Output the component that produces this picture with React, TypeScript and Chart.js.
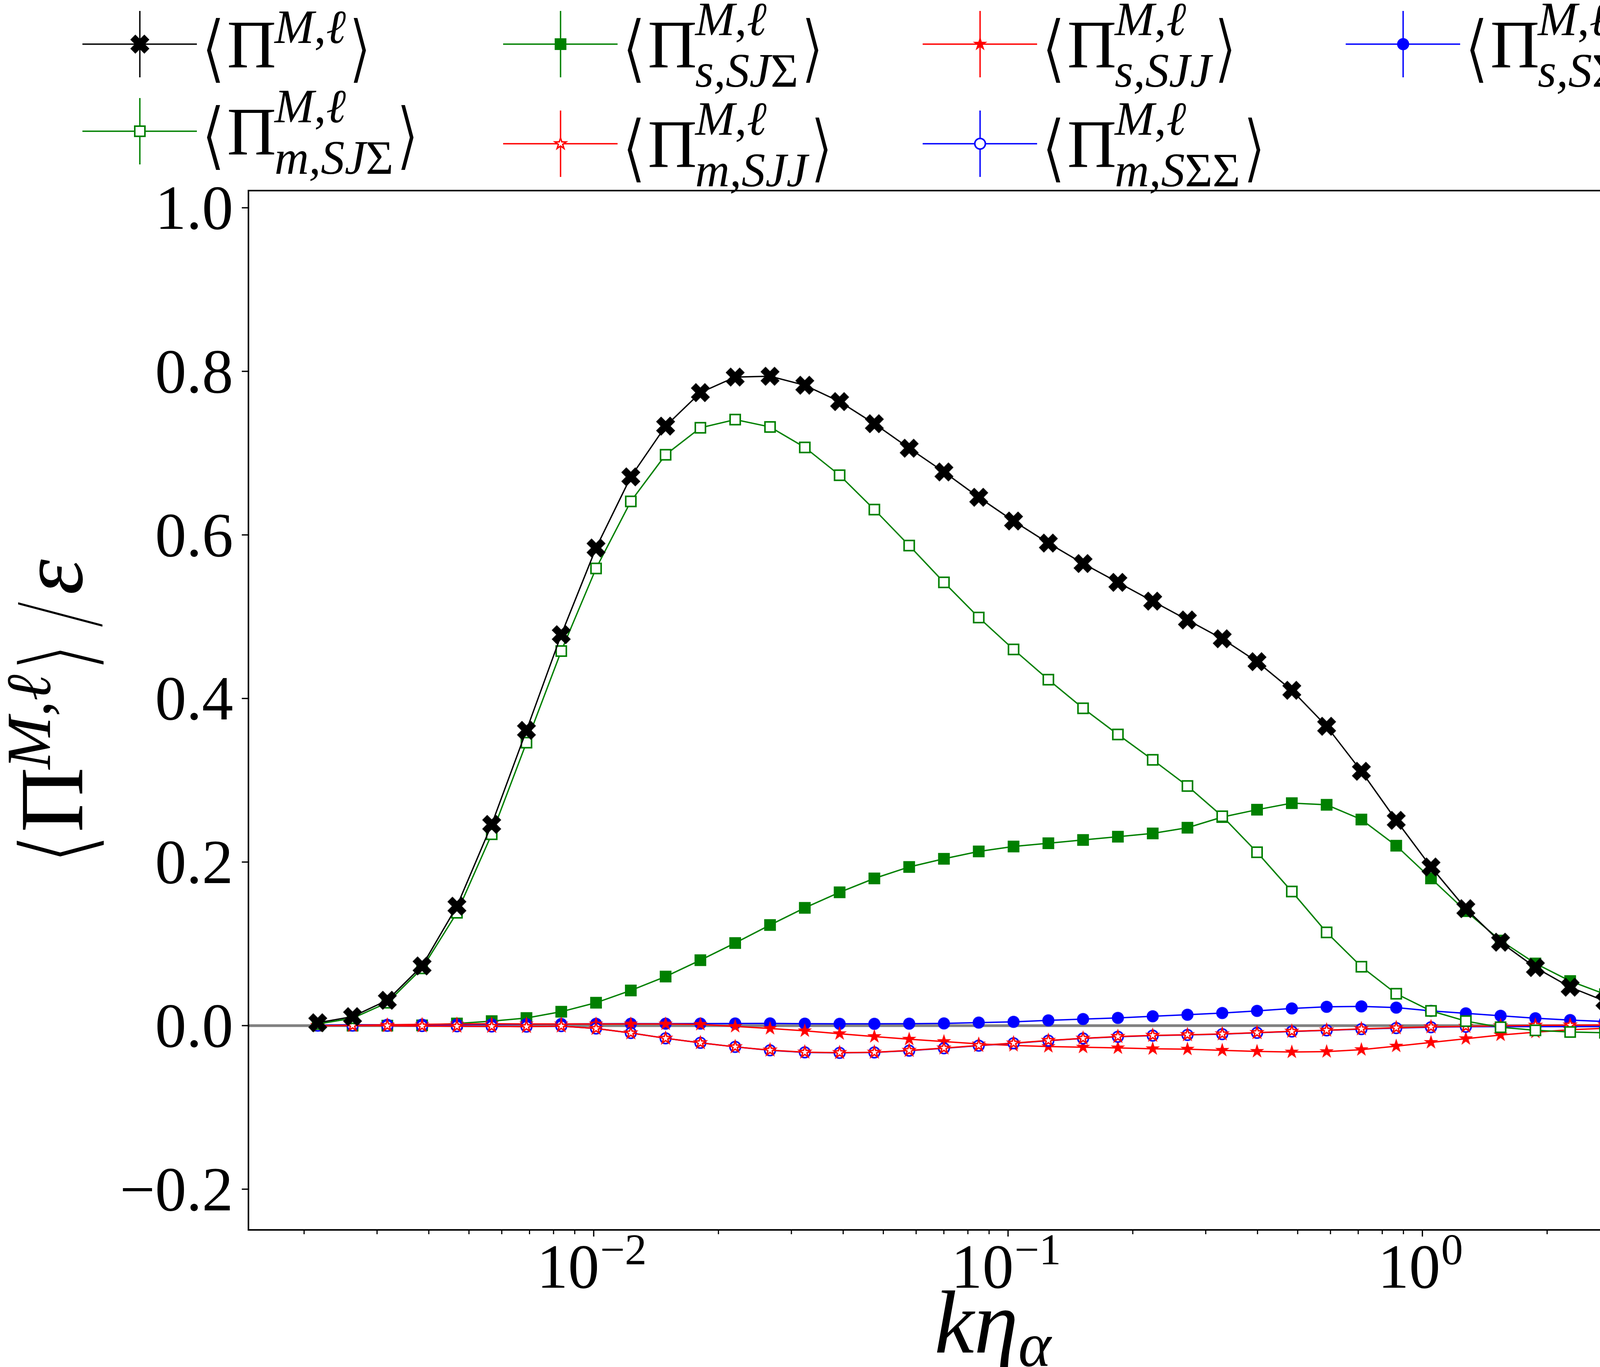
import { useEffect, useRef } from 'react';
import { Chart, registerables } from 'chart.js';

Chart.register(...registerables);

// k*eta_alpha of each sample
const kEta = [
  0.002158, 0.002618, 0.003176, 0.003853, 0.004676, 0.005673, 0.006882, 0.00835, 0.01013, 0.01229,
  0.01491, 0.01809, 0.02195, 0.02664, 0.03232, 0.03922, 0.04757, 0.05772, 0.07003, 0.08496,
  0.1031, 0.1251, 0.1517, 0.1841, 0.2234, 0.271, 0.3288, 0.3989, 0.484, 0.5873,
  0.7125, 0.8646, 1.049, 1.273, 1.544, 1.874, 2.273, 2.758, 3.346, 4.06,
];

const piTotal = [
  0.0035, 0.011, 0.031, 0.073, 0.146, 0.246, 0.361, 0.478, 0.584, 0.671,
  0.733, 0.774, 0.793, 0.794, 0.783, 0.763, 0.736, 0.706, 0.677, 0.646,
  0.617, 0.59, 0.565, 0.542, 0.519, 0.496, 0.473, 0.445, 0.41, 0.366,
  0.311, 0.251, 0.194, 0.143, 0.102, 0.071, 0.047, 0.03, 0.0175, 0.0095,
];
const piMSJSigma = [
  0.002, 0.009, 0.028, 0.07, 0.138, 0.234, 0.346, 0.458, 0.559, 0.641,
  0.698, 0.731, 0.741, 0.732, 0.707, 0.673, 0.631, 0.587, 0.542, 0.499,
  0.46, 0.423, 0.388, 0.356, 0.325, 0.293, 0.256, 0.212, 0.164, 0.114,
  0.072, 0.039, 0.018, 0.0055, -0.002, -0.0058, -0.0078, -0.0088, -0.0094, -0.0099,
];
const piSSJSigma = [
  0, 0, 0, 0.0003, 0.0026, 0.0055, 0.0093, 0.017, 0.028, 0.043,
  0.06, 0.08, 0.101, 0.123, 0.144, 0.163, 0.18, 0.194, 0.204, 0.213,
  0.219, 0.223, 0.227, 0.231, 0.235, 0.242, 0.255, 0.264, 0.272, 0.27,
  0.252, 0.22, 0.18, 0.14, 0.104, 0.076, 0.0545, 0.0385, 0.027, 0.0195,
];
const piSSJJ = [
  0, 0.0005, 0.001, 0.0015, 0.002, 0.0022, 0.002, 0.002, 0.002, 0.002,
  0.002, 0.0015, -0.001, -0.0035, -0.0064, -0.0099, -0.0134, -0.0166, -0.0195, -0.0224,
  -0.0243, -0.0256, -0.0264, -0.0272, -0.0283, -0.0288, -0.0302, -0.0315, -0.0323, -0.0318,
  -0.0294, -0.0251, -0.0206, -0.016, -0.0115, -0.008, -0.005, -0.0032, -0.002, -0.001,
];
const piMSJJ = [
  0, 0, -0.0002, -0.0005, -0.0008, -0.001, -0.0012, -0.0006, -0.0035, -0.009,
  -0.0155, -0.021, -0.026, -0.03, -0.0325, -0.0331, -0.0326, -0.0304, -0.0275, -0.0243,
  -0.0214, -0.0182, -0.0155, -0.0134, -0.012, -0.0112, -0.0102, -0.0086, -0.007, -0.0056,
  -0.004, -0.0027, -0.0016, -0.001, -0.0003, 0.0003, 0.0006, 0.0008, 0.001, 0.001,
];
const piSSigmaSigma = [
  0.0005, 0.001, 0.001, 0.0012, 0.0013, 0.0015, 0.0018, 0.002, 0.0022, 0.0023,
  0.0024, 0.0025, 0.0026, 0.0027, 0.0024, 0.0022, 0.0022, 0.0024, 0.0027, 0.0037,
  0.0046, 0.0064, 0.008, 0.0094, 0.0114, 0.0133, 0.0154, 0.018, 0.021, 0.023,
  0.0235, 0.022, 0.018, 0.015, 0.012, 0.009, 0.0068, 0.005, 0.0035, 0.002,
];
const piMSigmaSigma = [
  0, 0, -0.0002, -0.0005, -0.0008, -0.001, -0.0012, -0.0006, -0.0035, -0.009,
  -0.0155, -0.021, -0.026, -0.0302, -0.0327, -0.0333, -0.0328, -0.0306, -0.0277, -0.0245,
  -0.0216, -0.0184, -0.0157, -0.0136, -0.0122, -0.0114, -0.0104, -0.0088, -0.0072, -0.0058,
  -0.0043, -0.003, -0.002, -0.0014, -0.0012, -0.0012, -0.0012, -0.0012, -0.0012, -0.001,
];

const yTicks = [-0.2, 0, 0.2, 0.4, 0.6, 0.8, 1.0];
const yTickLabels = ['\u22120.2', '0.0', '0.2', '0.4', '0.6', '0.8', '1.0'];
const xMajorTicks = [0.01, 0.1, 1];
const xMajorExponents = ['\u22122', '\u22121', '0'];
const xMinorTicks = [
  0.002, 0.003, 0.004, 0.005, 0.006, 0.007, 0.008, 0.009,
  0.02, 0.03, 0.04, 0.05, 0.06, 0.07, 0.08, 0.09,
  0.2, 0.3, 0.4, 0.5, 0.6, 0.7, 0.8, 0.9,
  2, 3, 4, 5,
];

const SERIF = '"Liberation Serif", "DejaVu Serif", serif';
const font = (size: number, italic = false) => `${italic ? 'italic ' : ''}${size}px ${SERIF}`;
const DELIM_FONT = '200px "DejaVu Sans", "Noto Sans CJK JP", sans-serif';

type Piece = [string, boolean?];
const SUP: Piece[] = [['M', true], [','], ['\u2113', true]];

function runPieces(ctx: CanvasRenderingContext2D, pieces: Piece[], x: number, y: number, size: number) {
  for (const [t, it] of pieces) {
    ctx.font = font(size, !!it);
    ctx.fillText(t, x, y);
    x += ctx.measureText(t).width;
  }
  return x;
}

function piecesWidth(ctx: CanvasRenderingContext2D, pieces: Piece[], size: number) {
  let w = 0;
  for (const [t, it] of pieces) {
    ctx.font = font(size, !!it);
    w += ctx.measureText(t).width;
  }
  return w;
}

// stretch a glyph so its ink fills the box (big delimiters); `thin` shaves the stroke
function stretchGlyph(
  ctx: CanvasRenderingContext2D, ch: string, l: number, t: number, r: number, b: number, thin = 0,
) {
  ctx.save();
  ctx.font = DELIM_FONT;
  ctx.textAlign = 'left';
  ctx.textBaseline = 'alphabetic';
  const m = ctx.measureText(ch);
  const gw = m.actualBoundingBoxLeft + m.actualBoundingBoxRight;
  const gh = m.actualBoundingBoxAscent + m.actualBoundingBoxDescent;
  const sx = (r - l) / gw;
  const sy = (b - t) / gh;
  ctx.translate(l, t);
  ctx.scale(sx, sy);
  ctx.fillText(ch, m.actualBoundingBoxLeft, m.actualBoundingBoxAscent);
  if (thin > 0) {
    ctx.strokeStyle = '#fff';
    ctx.lineJoin = 'round';
    ctx.lineWidth = (2 * thin) / sx;
    ctx.strokeText(ch, m.actualBoundingBoxLeft, m.actualBoundingBoxAscent);
  }
  ctx.restore();
}

// <Pi^{M,l}_{sub}> with its baseline at B
function drawMathLabel(ctx: CanvasRenderingContext2D, x: number, B: number, F: number, sub: Piece[] | null) {
  const f = F * 0.7;
  const top = B - 0.74 * F;
  const bot = B + 0.245 * F;
  stretchGlyph(ctx, '\u27E8', x - 2, top, x + 0.218 * F, bot, 2);
  let cx = x + 0.3 * F;
  ctx.font = font(F);
  ctx.fillText('\u03A0', cx, B);
  cx += ctx.measureText('\u03A0').width - 0.023 * F;
  let end = runPieces(ctx, SUP, cx, B - (sub ? 0.47 : 0.356) * F, f);
  if (sub) end = Math.max(end, runPieces(ctx, sub, cx, B + 0.287 * F, f));
  const cl = end + 0.1 * F;
  stretchGlyph(ctx, '\u27E9', cl, top, cl + 0.2 * F + 2, bot, 2);
}

function makeMarker(kind: string, color: string): HTMLCanvasElement {
  const c = document.createElement('canvas');
  c.width = 64;
  c.height = 64;
  const g = c.getContext('2d')!;
  g.translate(32, 32);
  g.strokeStyle = color;
  g.fillStyle = color;
  const star = (R: number) => {
    g.beginPath();
    for (let i = 0; i < 10; i++) {
      const r = i % 2 === 0 ? R : R * 0.382;
      const a = -Math.PI / 2 + (i * Math.PI) / 5;
      if (i === 0) g.moveTo(r * Math.cos(a), r * Math.sin(a));
      else g.lineTo(r * Math.cos(a), r * Math.sin(a));
    }
    g.closePath();
  };
  if (kind === 'X') {
    const v = [
      [0.25, 0], [0.5, 0.25], [0.25, 0.5], [0, 0.25], [-0.25, 0.5], [-0.5, 0.25],
      [-0.25, 0], [-0.5, -0.25], [-0.25, -0.5], [0, -0.25], [0.25, -0.5], [0.5, -0.25],
    ];
    g.beginPath();
    v.forEach(([px, py], i) => (i === 0 ? g.moveTo(px * 46, py * 46) : g.lineTo(px * 46, py * 46)));
    g.closePath();
    g.fill();
    g.lineWidth = 2;
    g.stroke();
  } else if (kind === 'square') {
    g.fillRect(-15, -15, 30, 30);
  } else if (kind === 'squareOpen') {
    g.fillStyle = '#fff';
    g.fillRect(-13, -13, 26, 26);
    g.lineWidth = 4;
    g.strokeRect(-13, -13, 26, 26);
  } else if (kind === 'circle') {
    g.beginPath();
    g.arc(0, 0, 15.5, 0, Math.PI * 2);
    g.fill();
  } else if (kind === 'circleOpen') {
    g.beginPath();
    g.arc(0, 0, 13.5, 0, Math.PI * 2);
    g.fillStyle = '#fff';
    g.fill();
    g.lineWidth = 4;
    g.stroke();
  } else if (kind === 'star') {
    star(17);
    g.fill();
    g.lineWidth = 1.5;
    g.stroke();
  } else if (kind === 'starOpen') {
    star(15);
    g.fillStyle = '#fff';
    g.fill();
    g.lineWidth = 3.5;
    g.stroke();
  }
  return c;
}

export default function App() {
  const canvasRef = useRef<HTMLCanvasElement>(null);

  useEffect(() => {
    const canvas = canvasRef.current;
    if (!canvas) return;

    // listed top-most first: Chart.js paints dataset 0 last
    const series = [
      { key: 'total', values: piTotal, color: '#000000', marker: 'X' },
      { key: 'mSJSigma', values: piMSJSigma, color: '#008000', marker: 'squareOpen' },
      { key: 'mSJJ', values: piMSJJ, color: '#ff0000', marker: 'starOpen' },
      { key: 'mSigmaSigma', values: piMSigmaSigma, color: '#0000ff', marker: 'circleOpen' },
      { key: 'sSJJ', values: piSSJJ, color: '#ff0000', marker: 'star' },
      { key: 'sSigmaSigma', values: piSSigmaSigma, color: '#0000ff', marker: 'circle' },
      { key: 'sSJSigma', values: piSSJSigma, color: '#008000', marker: 'square' },
    ];
    const markers: Record<string, HTMLCanvasElement> = {};
    series.forEach(s => (markers[s.key] = makeMarker(s.marker, s.color)));
    const colorOf: Record<string, string> = {};
    series.forEach(s => (colorOf[s.key] = s.color));

    const legendCols = [211, 1288, 2362, 3445];
    const legendEntries: { key: string; col: number; B: number; sub: Piece[] | null }[] = [
      { key: 'total', col: 0, B: 172, sub: null },
      { key: 'sSJSigma', col: 1, B: 172, sub: [['s,SJ', true], ['\u03A3']] },
      { key: 'sSJJ', col: 2, B: 172, sub: [['s,SJJ', true]] },
      { key: 'sSigmaSigma', col: 3, B: 172, sub: [['s,S', true], ['\u03A3\u03A3']] },
      { key: 'mSJSigma', col: 0, B: 395, sub: [['m,SJ', true], ['\u03A3']] },
      { key: 'mSJJ', col: 1, B: 427, sub: [['m,SJJ', true]] },
      { key: 'mSigmaSigma', col: 2, B: 427, sub: [['m,S', true], ['\u03A3\u03A3']] },
    ];

    const decorations = {
      id: 'decorations',
      beforeDatasetsDraw(chart: any) {
        const { ctx, chartArea: a, scales } = chart;
        const y0 = scales.y.getPixelForValue(0);
        ctx.save();
        ctx.strokeStyle = '#808080';
        ctx.lineWidth = 7;
        ctx.beginPath();
        ctx.moveTo(a.left, y0);
        ctx.lineTo(a.right, y0);
        ctx.stroke();
        ctx.restore();
      },
      afterDraw(chart: any) {
        const { ctx, chartArea: a } = chart;
        const xs = chart.scales.x;
        const ys = chart.scales.y;
        const line = (x1: number, y1: number, x2: number, y2: number) => {
          ctx.beginPath();
          ctx.moveTo(x1, y1);
          ctx.lineTo(x2, y2);
          ctx.stroke();
        };
        ctx.save();
        ctx.fillStyle = '#000';
        ctx.strokeStyle = '#000';
        ctx.textBaseline = 'alphabetic';

        // frame
        ctx.lineWidth = 4;
        ctx.strokeRect(a.left, a.top, a.right - a.left, a.bottom - a.top);

        // y ticks and labels
        ctx.lineWidth = 3.3;
        ctx.font = font(160);
        ctx.textAlign = 'right';
        yTicks.forEach((v, i) => {
          const py = ys.getPixelForValue(v);
          line(a.left - 17, py, a.left, py);
          ctx.fillText(yTickLabels[i], a.left - 39, py + 54);
        });
        ctx.textAlign = 'left';

        // x ticks and labels
        ctx.lineWidth = 3;
        xMinorTicks.forEach(v => {
          const px = xs.getPixelForValue(v);
          line(px, a.bottom, px, a.bottom + 11);
        });
        ctx.lineWidth = 3.3;
        xMajorTicks.forEach((v, i) => {
          const px = xs.getPixelForValue(v);
          line(px, a.bottom, px, a.bottom + 17);
          ctx.font = font(160);
          const w10 = ctx.measureText('10').width;
          ctx.font = font(112);
          const we = ctx.measureText(xMajorExponents[i]).width;
          const x0 = px - (w10 + we) / 2 - 6;
          ctx.font = font(160);
          ctx.fillText('10', x0, a.bottom + 148);
          ctx.font = font(112);
          ctx.fillText(xMajorExponents[i], x0 + w10 + 2, a.bottom + 88);
        });

        // x axis title: k eta_alpha
        {
          const F = 228;
          const base = a.bottom + 314;
          ctx.font = font(F, true);
          const wk = ctx.measureText('k').width;
          const wn = ctx.measureText('\u03B7').width;
          ctx.font = font(160, true);
          const wa = ctx.measureText('\u03B1').width;
          let x0 = (a.left + a.right) / 2 - 6 - (wk + wn + wa) / 2;
          ctx.font = font(F, true);
          ctx.fillText('k', x0, base);
          x0 += wk;
          ctx.fillText('\u03B7', x0, base);
          x0 += wn;
          ctx.font = font(160, true);
          ctx.fillText('\u03B1', x0, base + 34);
        }

        // y axis title: <Pi^{M,l}> / epsilon, rotated
        {
          const F = 231;
          const f = F * 0.7;
          ctx.font = font(F);
          const wPi = ctx.measureText('\u03A0').width;
          const wSup = piecesWidth(ctx, SUP, f);
          ctx.font = font(F, true);
          const wEps = ctx.measureText('\u03B5').width;
          const supStart = 64 + wPi - 5;
          const supEnd = supStart + wSup;
          const total = supEnd + 204 + wEps;
          const cy = (a.top + a.bottom) / 2 - 5;
          ctx.save();
          ctx.translate(a.left - 426, cy + total / 2);
          ctx.rotate(-Math.PI / 2);
          stretchGlyph(ctx, '\u27E8', -3, -172, 49, 61, 4);
          ctx.font = font(F);
          ctx.fillText('\u03A0', 64, 0);
          runPieces(ctx, SUP, supStart, -0.356 * F, f);
          stretchGlyph(ctx, '\u27E9', supEnd + 20, -172, supEnd + 66, 61, 4);
          stretchGlyph(ctx, '/', supEnd + 113, -172, supEnd + 195, 61, 7);
          ctx.font = font(F, true);
          ctx.fillText('\u03B5', supEnd + 204, 0);
          ctx.restore();
        }

        // legend (errorbar style handles)
        legendEntries.forEach(e => {
          const L = legendCols[e.col];
          const hy = e.B - 59;
          ctx.strokeStyle = colorOf[e.key];
          ctx.lineWidth = 3.5;
          line(L, hy, L + 293, hy);
          line(L + 147, hy - 85, L + 147, hy + 85);
          const m = markers[e.key];
          ctx.drawImage(m, L + 147 - m.width / 2, hy - m.height / 2);
          ctx.fillStyle = '#000';
          drawMathLabel(ctx, L + 318, e.B, 174, e.sub);
        });

        ctx.restore();
      },
    };

    const chart = new Chart(canvas, {
      type: 'line',
      data: {
        datasets: series.map(s => ({
          label: s.key,
          data: kEta.map((x, i) => ({ x, y: s.values[i] })),
          borderColor: s.color,
          backgroundColor: s.color,
          borderWidth: 3.5,
          tension: 0,
          fill: false,
          pointStyle: markers[s.key] as any,
          pointRadius: 15,
        })),
      },
      options: {
        responsive: false,
        devicePixelRatio: 1,
        animation: false,
        events: [],
        layout: { padding: { left: 636, right: 91, top: 488, bottom: 351 } },
        plugins: {
          legend: { display: false },
          tooltip: { enabled: false },
        },
        scales: {
          x: { type: 'logarithmic', min: 0.001468, max: 5.9, display: false },
          y: { type: 'linear', min: -0.2498, max: 1.021, display: false },
        },
      },
      plugins: [decorations],
    });

    return () => {
      chart.destroy();
    };
  }, []);

  return (
    <div style={{ position: 'absolute', left: 0, top: 0, width: 4550, height: 3500, background: '#fff' }}>
      <canvas ref={canvasRef} width={4550} height={3500} style={{ display: 'block', width: 4550, height: 3500 }} />
    </div>
  );
}
